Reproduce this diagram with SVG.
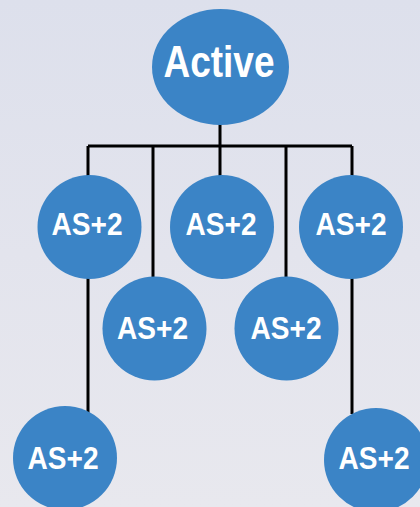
<svg xmlns="http://www.w3.org/2000/svg" width="420" height="507" viewBox="0 0 420 507">
<defs>
<linearGradient id="bg" x1="0" y1="0" x2="0" y2="1">
<stop offset="0" stop-color="#dde0ec"/>
<stop offset="0.5" stop-color="#e3e4ed"/>
<stop offset="1" stop-color="#e8e8ee"/>
</linearGradient>
</defs>
<style>
.n{fill:#3b84c6}
.t{fill:#fff;font-family:"Liberation Sans",Arial,sans-serif;font-weight:bold;text-anchor:middle}
.s{font-size:31px}
.c{stroke:#000;stroke-width:3;fill:none}
</style>
<rect width="420" height="507" fill="url(#bg)"/>
<g id="connectors">
<path class="c" d="M220 120V146M88 146H352M88 146V414M153 146V280M220 146V180M286 146V280M352 146V414"/>
</g>
<g id="active">
<ellipse class="n" cx="220.5" cy="67" rx="68.5" ry="58"/>
<text class="t" x="219" y="77" font-size="45" textLength="111" lengthAdjust="spacingAndGlyphs">Active</text>
</g>
<g id="n1"><circle class="n" cx="89.5" cy="227" r="52"/><text class="t s" x="87" y="235" textLength="71" lengthAdjust="spacingAndGlyphs">AS+2</text></g>
<g id="n2"><circle class="n" cx="222" cy="227" r="52"/><text class="t s" x="221" y="235" textLength="71" lengthAdjust="spacingAndGlyphs">AS+2</text></g>
<g id="n3"><circle class="n" cx="351" cy="227" r="52"/><text class="t s" x="351" y="235" textLength="71" lengthAdjust="spacingAndGlyphs">AS+2</text></g>
<g id="n4"><circle class="n" cx="154.5" cy="328.5" r="52"/><text class="t s" x="152.5" y="339" textLength="71" lengthAdjust="spacingAndGlyphs">AS+2</text></g>
<g id="n5"><circle class="n" cx="286.5" cy="328.5" r="52"/><text class="t s" x="286" y="339" textLength="71" lengthAdjust="spacingAndGlyphs">AS+2</text></g>
<g id="n6"><circle class="n" cx="65" cy="458" r="52"/><text class="t s" x="63" y="469" textLength="71" lengthAdjust="spacingAndGlyphs">AS+2</text></g>
<g id="n7"><circle class="n" cx="376" cy="460" r="52"/><text class="t s" x="374" y="469" textLength="71" lengthAdjust="spacingAndGlyphs">AS+2</text></g>
</svg>
